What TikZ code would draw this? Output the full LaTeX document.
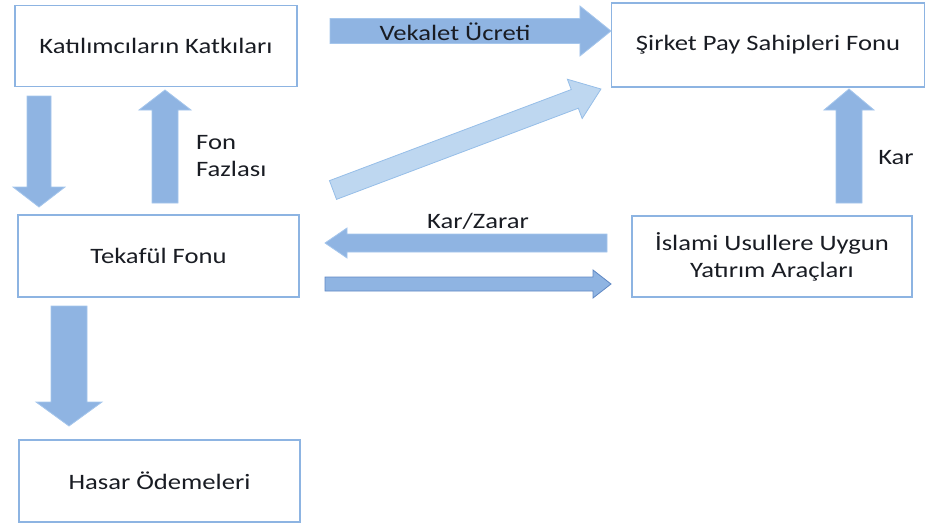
\documentclass[tikz,border=0pt]{standalone}
\usepackage{fontspec}
\setmainfont[FakeStretch=1.21]{Carlito}
\usetikzlibrary{calc,positioning}

\definecolor{boxline}{RGB}{141,180,226}
\definecolor{arrowfill}{RGB}{143,180,226}
\definecolor{arrowline}{RGB}{165,198,236}
\definecolor{lightfill}{RGB}{190,215,240}
\definecolor{lightline}{RGB}{150,190,232}
\definecolor{darkline}{RGB}{95,135,195}
\definecolor{textgray}{RGB}{25,28,35}

% block arrow: style, from, to, half shaft, half head, head length (pt)
\newcommand{\blockarrow}[6]{%
  \draw[#1] let \p1=($(#3)-(#2)$), \n1={atan2(\y1,\x1)}, \n2={veclen(\x1,\y1)} in
    [shift={(#2)}, rotate=\n1]
    (0pt,-#4pt) -- ({\n2-#6pt},-#4pt) -- ({\n2-#6pt},-#5pt) -- ({\n2},0pt)
    -- ({\n2-#6pt},#5pt) -- ({\n2-#6pt},#4pt) -- (0pt,#4pt) -- cycle;}

\begin{document}
\begin{tikzpicture}[x=1pt,y=-1pt]

		\tikzstyle{fund}=[draw=boxline,line width=1.1pt,fill=white,text=textgray,
			font=\fontsize{22}{27}\selectfont,align=center,inner sep=0pt]
		\tikzstyle{flow}=[fill=arrowfill,draw=arrowline,line width=0.8pt]
		\tikzstyle{paleflow}=[fill=lightfill,draw=lightline,line width=0.8pt]
		\tikzstyle{sendflow}=[fill=arrowfill,draw=darkline,line width=0.8pt]
		\tikzstyle{flowlabel}=[text=textgray,font=\fontsize{22}{27}\selectfont,inner sep=0pt]

		\useasboundingbox (0,0) rectangle (929,525);

		\node[fund,minimum width=282,minimum height=81] (katki) at (156,46) {Katılımcıların Katkıları};
		\node[fund,minimum width=313,minimum height=84] (sirket) at (768,45) {Şirket Pay Sahipleri Fonu};
		\node[fund,minimum width=281,minimum height=82] (tekaful) at (158.5,256) {Tekafül Fonu};
		\node[fund,minimum width=280,minimum height=81] (yatirim) at (772,256.5) {İslami Usullere Uygun\\Yatırım Araçları};
		\node[fund,minimum width=281,minimum height=82] (hasar) at (159.5,481) {Hasar Ödemeleri};

		\coordinate (vekA) at (330,31);
		\coordinate (vekB) at (sirket.west |- vekA);
		\coordinate (katA) at (39,96);
		\coordinate (katB) at (39,207);
		\coordinate (fazA) at (165,203);
		\coordinate (fazB) at (165,90);
		\coordinate (payA) at (333,190);
		\coordinate (payB) at (601,89);
		\coordinate (zarA) at (607,243);
		\coordinate (zarB) at (325,243);
		\coordinate (yatA) at (325,284);
		\coordinate (yatB) at (611,284);
		\coordinate (karA) at (849,203);
		\coordinate (karB) at (849,89);
		\coordinate (hasA) at (69,306);
		\coordinate (hasB) at (69,426);

		\blockarrow{flow}{vekA}{vekB}{12.5}{25}{31}
		\blockarrow{flow}{katA}{katB}{12}{26}{20}
		\blockarrow{flow}{fazA}{fazB}{13}{26}{20}
		\blockarrow{paleflow}{payA}{payB}{10}{21}{28}
		\blockarrow{flow}{zarA}{zarB}{9}{15}{22}
		\blockarrow{sendflow}{yatA}{yatB}{7}{14}{18}
		\blockarrow{flow}{karA}{karB}{13}{25}{21}
		\blockarrow{flow}{hasA}{hasB}{18}{33}{24}

		\node[flowlabel] (vekalet) at (455,32) {Vekalet Ücreti};
		\node[flowlabel,anchor=west] (fon) at (196,143) {Fon};
		\node[flowlabel,anchor=west] (fazlasi) at (196,169) {Fazlası};
		\node[flowlabel] (karzarar) at (478,221) {Kar/Zarar};
		\node[flowlabel] (kar) at (896,158) {Kar};

		\end{tikzpicture}
\end{document}
